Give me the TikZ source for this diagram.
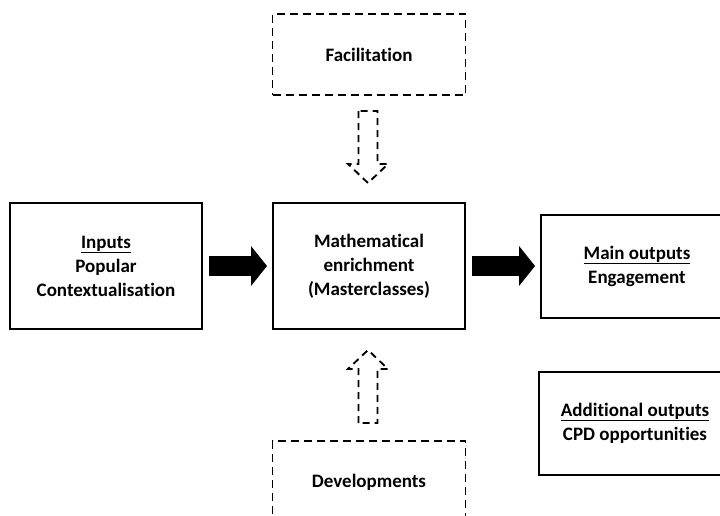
\documentclass[tikz,border=0pt]{standalone}
\usepackage{fontspec}
\setmainfont{Carlito}[Ligatures=NoCommon]
\usetikzlibrary{arrows.meta,calc,positioning}

\begin{document}
\begin{tikzpicture}[x=1pt, y=-1pt]
	\tikzset{box/.style={draw, rectangle, line width=2pt, align=center, minimum width=192pt, minimum height=126pt, font=\fontsize{19}{24}\selectfont\bfseries},
		dashbox/.style={box, line width=1.9pt, dash pattern=on 8pt off 5pt, minimum width=193pt, minimum height=81pt},
		bigarrow/.style={line width=20pt, -{Triangle[length=16pt, width=40pt, line width=0pt]}, shorten <=6pt, shorten >=5pt},
		hollowarrow/.style={line width=1.9pt, dash pattern=on 7pt off 5pt, line join=miter},
	}
	\clip (0,0) rectangle (720,515);

	\node [box] (enrich) at (369,266) {Mathematical\\enrichment\\(Masterclasses)};
	\node [box, left=69pt of enrich] (inputs) {\underline{Inputs}\\Popular\\Contextualisation};
	\node [box, right=74pt of enrich, minimum height=103pt] (mainout) {\underline{Main outputs}\\Engagement};
	\node [box, below=52pt of mainout, xshift=-2pt, minimum height=103pt] (addout) {\underline{Additional outputs}\\CPD opportunities};
	\node [dashbox, above=106pt of enrich] (facil) {Facilitation};
	\node [dashbox, below=110pt of enrich, minimum height=82pt] (develop) {Developments};

	\draw [bigarrow] (inputs) -- (enrich);
	\draw [bigarrow] (enrich) -- (mainout);

	% open dashed arrows
	\coordinate (ftail) at ($(facil.south)+(-1,15)$);
	\draw [hollowarrow] ($(ftail)+(-9.5,0)$) -- ++(0,53) -- ++(-10.5,0) -- ($(ftail)+(0,72)$)
		-- ($(ftail)+(20,53)$) -- ++(-10.5,0) -- ($(ftail)+(9.5,0)$) -- cycle;
	\coordinate (dtail) at ($(develop.north)+(-1,-17)$);
	\draw [hollowarrow] ($(dtail)+(-9.5,0)$) -- ++(0,-54) -- ++(-10.5,0) -- ($(dtail)+(0,-73)$)
		-- ($(dtail)+(20,-54)$) -- ++(-10.5,0) -- ($(dtail)+(9.5,0)$) -- cycle;
\end{tikzpicture}
\end{document}
